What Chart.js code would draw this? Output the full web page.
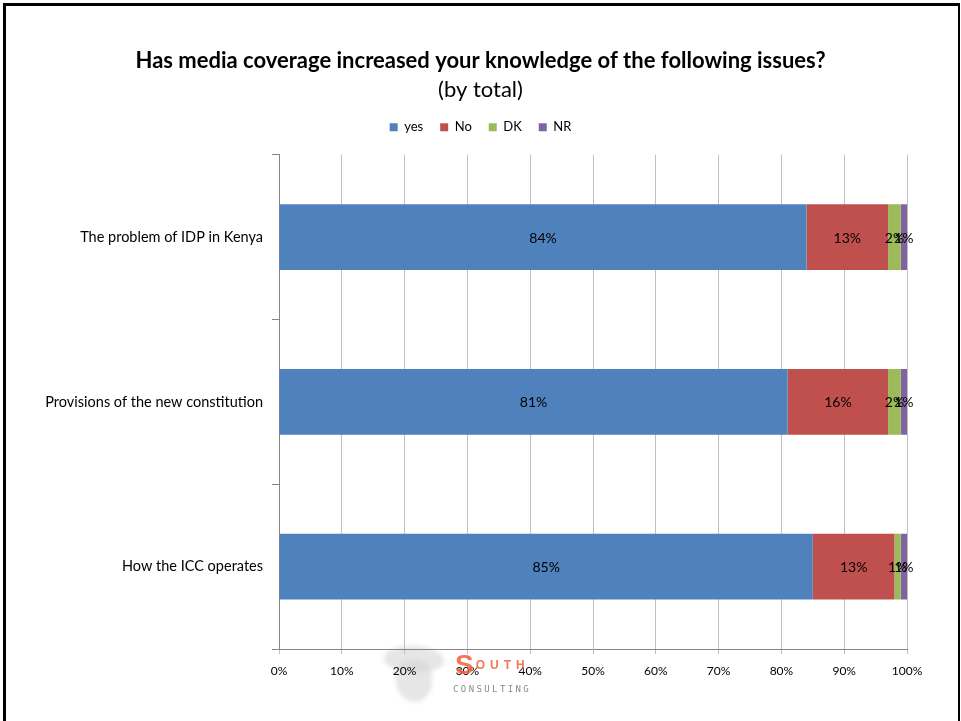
<!DOCTYPE html>
<html>
<head>
<meta charset="utf-8">
<script src="https://cdn.jsdelivr.net/npm/chart.js@4"></script>
<style>
  html, body { margin: 0; padding: 0; background: #fff; }
  #wrap { position: relative; width: 961px; height: 721px; overflow: hidden; background: #fff; }
  #c { position: absolute; left: 0; top: 0; }
  #frame { position: absolute; left: 3px; top: 3px; width: 952px; height: 740px;
           border-left: 3px solid #000; border-top: 3px solid #000; border-right: 2px solid #000; }
  .blob { position: absolute; background: #d6d6d6; opacity: 0.6; filter: blur(2px); }
  #g1 { left: 384px; top: 646px; width: 60px; height: 26px; border-radius: 45% 55% 40% 50%; }
  #g2 { left: 396px; top: 660px; width: 36px; height: 42px; border-radius: 40% 45% 55% 60%; }
  #logo1 { position: absolute; left: 455px; top: 650px; font: bold 28px "Liberation Sans", sans-serif;
           color: #f5603a; opacity: 0.85; letter-spacing: 2px; line-height: 30px; }
  #logo1 span { font-size: 12px; letter-spacing: 5px; vertical-align: 5px; }
  #logo2 { position: absolute; left: 453px; top: 684px; font: 9px "DejaVu Sans Mono", monospace;
           color: #8a8a8a; letter-spacing: 2.4px; }
</style>
</head>
<body>
<div id="wrap">
  <div class="blob" id="g1"></div>
  <div class="blob" id="g2"></div>
  <canvas id="c" width="961" height="721"></canvas>
  <div id="frame"></div>
  <div id="logo1">S<span>OUTH</span></div>
  <div id="logo2">CONSULTING</div>
</div>
<script>
const categories = ["The problem of IDP in Kenya", "Provisions of the new constitution", "How the ICC operates"];
const seriesNames = ["yes", "No", "DK", "NR"];
const yesValues = [84, 81, 85];
const noValues = [13, 16, 13];
const dkValues = [2, 2, 1];
const nrValues = [1, 1, 1];
const xTickLabels = ["0%", "10%", "20%", "30%", "40%", "50%", "60%", "70%", "80%", "90%", "100%"];
const colors = ["#4F81BD", "#C0504D", "#9BBB59", "#8064A2"];

const FONT = "Lato, 'Open Sans', sans-serif";

const labelPlugin = {
  id: "segLabels",
  afterDatasetsDraw(chart) {
    const ctx = chart.ctx;
    ctx.save();
    ctx.font = "14px " + FONT;
    ctx.fillStyle = "#000";
    ctx.textAlign = "center";
    ctx.textBaseline = "middle";
    chart.data.datasets.forEach((ds, di) => {
      const meta = chart.getDatasetMeta(di);
      meta.data.forEach((el, i) => {
        const p = el.getProps(["x", "y", "base"], true);
        ctx.fillText(ds.data[i] + "%", (p.x + p.base) / 2, p.y + 1);
      });
    });
    ctx.restore();
  }
};

const allValues = [yesValues, noValues, dkValues, nrValues];

new Chart(document.getElementById("c"), {
  type: "bar",
  data: {
    labels: categories,
    datasets: seriesNames.map((n, i) => ({
      label: n,
      data: allValues[i],
      backgroundColor: colors[i],
      borderWidth: 0,
      categoryPercentage: 0.4,
      barPercentage: 1.0
    }))
  },
  options: {
    indexAxis: "y",
    responsive: false,
    animation: false,
    devicePixelRatio: 1,
    layout: { padding: { left: 0, right: 0, top: 0, bottom: 0 } },
    plugins: {
      tooltip: { enabled: false },
      title: {
        display: true,
        text: "Has media coverage increased your knowledge of the following issues?",
        color: "#000",
        font: { family: FONT, size: 22, weight: "bold" },
        padding: { top: 48, bottom: 1 }
      },
      subtitle: {
        display: true,
        text: "(by total)",
        color: "#000",
        font: { family: FONT, size: 22, weight: "normal" },
        padding: { top: 1, bottom: 1 }
      },
      legend: {
        position: "top",
        labels: {
          color: "#000",
          font: { family: FONT, size: 13 },
          boxWidth: 8,
          boxHeight: 8,
          padding: 17
        }
      }
    },
    scales: {
      x: {
        stacked: true,
        min: 0,
        max: 100,
        ticks: {
          stepSize: 10,
          color: "#000",
          font: { family: FONT, size: 12 },
          padding: 10,
          callback: (v, i) => xTickLabels[i]
        },
        grid: { color: "#BFBFBF", tickColor: "#BFBFBF", tickLength: 5, lineWidth: 1 },
        border: { color: "#868686", width: 1 },
        afterFit(scale) { scale.height = 72; }
      },
      xTop: {
        type: "linear",
        position: "top",
        display: true,
        ticks: { display: false },
        grid: { display: false, drawTicks: false },
        border: { display: false },
        afterFit(scale) { scale.height = 11; }
      },
      y: {
        stacked: true,
        ticks: {
          color: "#000",
          font: { family: FONT, size: 14.5 },
          padding: 9
        },
        grid: { drawOnChartArea: false, offset: true, color: "#868686", tickLength: 7 },
        border: { color: "#868686", width: 1 },
        afterFit(scale) { scale.width = 279; }
      },
      yRight: {
        type: "linear",
        position: "right",
        display: true,
        ticks: { display: false },
        grid: { display: false, drawTicks: false },
        border: { display: false },
        afterFit(scale) { scale.width = 54; }
      }
    }
  },
  plugins: [labelPlugin]
});
</script>
</body>
</html>
